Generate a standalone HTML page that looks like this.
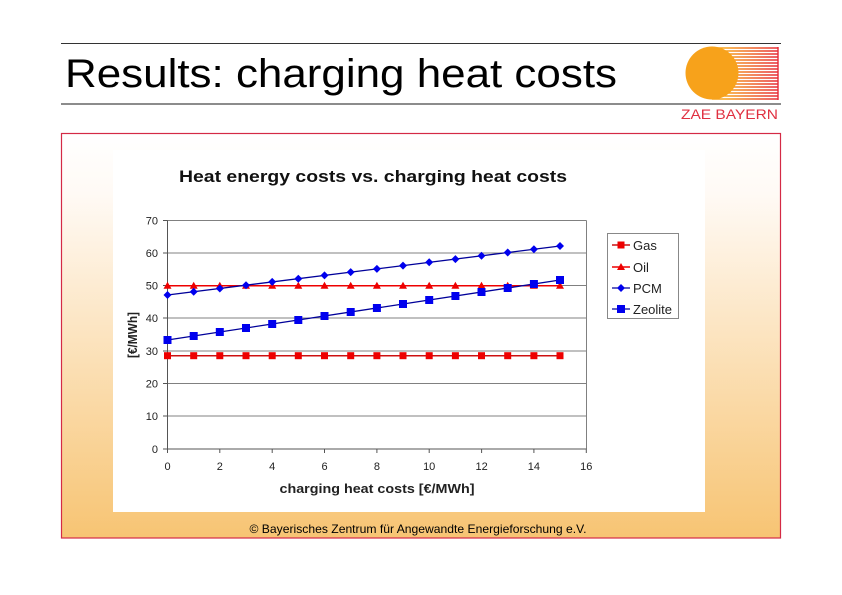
<!DOCTYPE html>
<html><head><meta charset="utf-8"><style>
html,body{margin:0;padding:0;background:#fff;}
svg{display:block;}
text{font-family:"Liberation Sans",Arial,sans-serif;}
</style></head><body>
<svg width="842" height="595" viewBox="0 0 842 595" xmlns="http://www.w3.org/2000/svg">
<defs>
<linearGradient id="bg" x1="0" y1="0" x2="0" y2="1">
<stop offset="0" stop-color="#ffffff"/>
<stop offset="0.15" stop-color="#fffaf5"/>
<stop offset="1" stop-color="#f7c473"/>
</linearGradient>
<linearGradient id="stripe" gradientUnits="userSpaceOnUse" x1="725" y1="0" x2="778" y2="0">
<stop offset="0" stop-color="#f7a21b"/>
<stop offset="1" stop-color="#e62a35"/>
</linearGradient>
</defs>
<rect width="842" height="595" fill="#fff"/>
<line x1="61" y1="43.5" x2="781" y2="43.5" stroke="#333" stroke-width="1"/>
<line x1="61" y1="104" x2="781" y2="104" stroke="#666" stroke-width="1.5"/>
<text x="65" y="87" font-size="40" textLength="552" lengthAdjust="spacingAndGlyphs" fill="#000">Results: charging heat costs</text>
<g stroke="url(#stripe)" stroke-width="1.6">
<line x1="712" y1="48" x2="778" y2="48"/>
<line x1="712" y1="51" x2="778" y2="51"/>
<line x1="712" y1="54" x2="778" y2="54"/>
<line x1="712" y1="57" x2="778" y2="57"/>
<line x1="712" y1="60" x2="778" y2="60"/>
<line x1="712" y1="63" x2="778" y2="63"/>
<line x1="712" y1="66" x2="778" y2="66"/>
<line x1="712" y1="69" x2="778" y2="69"/>
<line x1="712" y1="72" x2="778" y2="72"/>
<line x1="712" y1="75" x2="778" y2="75"/>
<line x1="712" y1="78" x2="778" y2="78"/>
<line x1="712" y1="81" x2="778" y2="81"/>
<line x1="712" y1="84" x2="778" y2="84"/>
<line x1="712" y1="87" x2="778" y2="87"/>
<line x1="712" y1="90" x2="778" y2="90"/>
<line x1="712" y1="93" x2="778" y2="93"/>
<line x1="712" y1="96" x2="778" y2="96"/>
<line x1="712" y1="99" x2="778" y2="99"/>
</g>
<line x1="778" y1="47" x2="778" y2="100" stroke="#e62a35" stroke-width="1.4"/>
<circle cx="712" cy="73" r="26.5" fill="#f7a21b"/>
<text x="681" y="119" font-size="14" fill="#e03040" textLength="97" lengthAdjust="spacingAndGlyphs">ZAE BAYERN</text>
<rect x="61.5" y="133.5" width="719" height="404.5" fill="url(#bg)" stroke="#d42a45" stroke-width="1.2"/>
<rect x="113" y="150" width="592" height="362" fill="#fff"/>
<text x="418" y="533" font-size="12" text-anchor="middle" textLength="337" lengthAdjust="spacingAndGlyphs" fill="#000">© Bayerisches Zentrum für Angewandte Energieforschung e.V.</text>
<text x="373" y="182" font-size="17" font-weight="bold" text-anchor="middle" textLength="388" lengthAdjust="spacingAndGlyphs" fill="#111">Heat energy costs vs. charging heat costs</text>
<g stroke="#808080" stroke-width="1">
<line x1="167.5" y1="220.5" x2="586.5" y2="220.5"/>
<line x1="167.5" y1="253" x2="586.5" y2="253"/>
<line x1="167.5" y1="285.5" x2="586.5" y2="285.5"/>
<line x1="167.5" y1="318" x2="586.5" y2="318"/>
<line x1="167.5" y1="351" x2="586.5" y2="351"/>
<line x1="167.5" y1="383.5" x2="586.5" y2="383.5"/>
<line x1="167.5" y1="416" x2="586.5" y2="416"/>
<line x1="586.5" y1="220.5" x2="586.5" y2="449"/>
</g>
<g stroke="#555" stroke-width="1">
<line x1="167.5" y1="220.5" x2="167.5" y2="449"/>
<line x1="167.5" y1="449" x2="586.5" y2="449"/>
<line x1="163" y1="220.5" x2="167.5" y2="220.5"/>
<line x1="163" y1="253" x2="167.5" y2="253"/>
<line x1="163" y1="285.5" x2="167.5" y2="285.5"/>
<line x1="163" y1="318" x2="167.5" y2="318"/>
<line x1="163" y1="351" x2="167.5" y2="351"/>
<line x1="163" y1="383.5" x2="167.5" y2="383.5"/>
<line x1="163" y1="416" x2="167.5" y2="416"/>
<line x1="163" y1="449" x2="167.5" y2="449"/>
<line x1="167.5" y1="449" x2="167.5" y2="453"/>
<line x1="219.8" y1="449" x2="219.8" y2="453"/>
<line x1="272.2" y1="449" x2="272.2" y2="453"/>
<line x1="324.5" y1="449" x2="324.5" y2="453"/>
<line x1="376.9" y1="449" x2="376.9" y2="453"/>
<line x1="429.2" y1="449" x2="429.2" y2="453"/>
<line x1="481.6" y1="449" x2="481.6" y2="453"/>
<line x1="533.9" y1="449" x2="533.9" y2="453"/>
<line x1="586.3" y1="449" x2="586.3" y2="453"/>
</g>
<g font-size="11" fill="#222" text-anchor="end">
<text x="158" y="224.5">70</text>
<text x="158" y="257">60</text>
<text x="158" y="289.5">50</text>
<text x="158" y="322">40</text>
<text x="158" y="355">30</text>
<text x="158" y="387.5">20</text>
<text x="158" y="420">10</text>
<text x="158" y="453">0</text>
</g>
<g font-size="11" fill="#222" text-anchor="middle">
<text x="167.5" y="470">0</text>
<text x="219.8" y="470">2</text>
<text x="272.2" y="470">4</text>
<text x="324.5" y="470">6</text>
<text x="376.9" y="470">8</text>
<text x="429.2" y="470">10</text>
<text x="481.6" y="470">12</text>
<text x="533.9" y="470">14</text>
<text x="586.3" y="470">16</text>
</g>
<text x="377" y="493" font-size="13" font-weight="bold" text-anchor="middle" textLength="195" lengthAdjust="spacingAndGlyphs" fill="#222">charging heat costs [€/MWh]</text>
<text transform="translate(137,335) rotate(-90)" font-size="13" font-weight="bold" text-anchor="middle" textLength="46" lengthAdjust="spacingAndGlyphs" fill="#222">[€/MWh]</text>
<line x1="167.5" y1="355.7" x2="560" y2="355.7" stroke="#cc1010" stroke-width="1.5"/>
<line x1="167.5" y1="285.7" x2="560" y2="285.7" stroke="#ee0000" stroke-width="1.5"/>
<line x1="167.5" y1="295" x2="560" y2="246" stroke="#000099" stroke-width="1.3"/>
<line x1="167.5" y1="340" x2="560" y2="280" stroke="#000099" stroke-width="1.3"/>
<g fill="#ee0000">
<rect x="164" y="352.2" width="7" height="7"/><rect x="190.2" y="352.2" width="7" height="7"/><rect x="216.3" y="352.2" width="7" height="7"/><rect x="242.5" y="352.2" width="7" height="7"/><rect x="268.7" y="352.2" width="7" height="7"/><rect x="294.8" y="352.2" width="7" height="7"/><rect x="321" y="352.2" width="7" height="7"/><rect x="347.2" y="352.2" width="7" height="7"/><rect x="373.4" y="352.2" width="7" height="7"/><rect x="399.5" y="352.2" width="7" height="7"/><rect x="425.7" y="352.2" width="7" height="7"/><rect x="451.9" y="352.2" width="7" height="7"/><rect x="478" y="352.2" width="7" height="7"/><rect x="504.2" y="352.2" width="7" height="7"/><rect x="530.4" y="352.2" width="7" height="7"/><rect x="556.5" y="352.2" width="7" height="7"/>
</g>
<g fill="#ee0000">
<path d="M167.5 281.7 L171.5 288.7 L163.5 288.7Z"/><path d="M193.7 281.7 L197.7 288.7 L189.7 288.7Z"/><path d="M219.8 281.7 L223.8 288.7 L215.8 288.7Z"/><path d="M246 281.7 L250 288.7 L242 288.7Z"/><path d="M272.2 281.7 L276.2 288.7 L268.2 288.7Z"/><path d="M298.3 281.7 L302.3 288.7 L294.3 288.7Z"/><path d="M324.5 281.7 L328.5 288.7 L320.5 288.7Z"/><path d="M350.7 281.7 L354.7 288.7 L346.7 288.7Z"/><path d="M376.9 281.7 L380.9 288.7 L372.9 288.7Z"/><path d="M403 281.7 L407 288.7 L399 288.7Z"/><path d="M429.2 281.7 L433.2 288.7 L425.2 288.7Z"/><path d="M455.4 281.7 L459.4 288.7 L451.4 288.7Z"/><path d="M481.5 281.7 L485.5 288.7 L477.5 288.7Z"/><path d="M507.7 281.7 L511.7 288.7 L503.7 288.7Z"/><path d="M533.9 281.7 L537.9 288.7 L529.9 288.7Z"/><path d="M560 281.7 L564 288.7 L556 288.7Z"/>
</g>
<g fill="#0000ee">
<path d="M167.5 291 L171.5 295 L167.5 299 L163.5 295Z"/><path d="M193.7 287.7 L197.7 291.7 L193.7 295.7 L189.7 291.7Z"/><path d="M219.8 284.5 L223.8 288.5 L219.8 292.5 L215.8 288.5Z"/><path d="M246 281.2 L250 285.2 L246 289.2 L242 285.2Z"/><path d="M272.2 277.9 L276.2 281.9 L272.2 285.9 L268.2 281.9Z"/><path d="M298.3 274.7 L302.3 278.7 L298.3 282.7 L294.3 278.7Z"/><path d="M324.5 271.4 L328.5 275.4 L324.5 279.4 L320.5 275.4Z"/><path d="M350.7 268.1 L354.7 272.1 L350.7 276.1 L346.7 272.1Z"/><path d="M376.9 264.9 L380.9 268.9 L376.9 272.9 L372.9 268.9Z"/><path d="M403 261.6 L407 265.6 L403 269.6 L399 265.6Z"/><path d="M429.2 258.3 L433.2 262.3 L429.2 266.3 L425.2 262.3Z"/><path d="M455.4 255.1 L459.4 259.1 L455.4 263.1 L451.4 259.1Z"/><path d="M481.5 251.8 L485.5 255.8 L481.5 259.8 L477.5 255.8Z"/><path d="M507.7 248.5 L511.7 252.5 L507.7 256.5 L503.7 252.5Z"/><path d="M533.9 245.3 L537.9 249.3 L533.9 253.3 L529.9 249.3Z"/><path d="M560 242 L564 246 L560 250 L556 246Z"/>
</g>
<g fill="#0000ee">
<rect x="163.5" y="336" width="8" height="8"/><rect x="189.7" y="332" width="8" height="8"/><rect x="215.8" y="328" width="8" height="8"/><rect x="242" y="324" width="8" height="8"/><rect x="268.2" y="320" width="8" height="8"/><rect x="294.3" y="316" width="8" height="8"/><rect x="320.5" y="312" width="8" height="8"/><rect x="346.7" y="308" width="8" height="8"/><rect x="372.9" y="304" width="8" height="8"/><rect x="399" y="300" width="8" height="8"/><rect x="425.2" y="296" width="8" height="8"/><rect x="451.4" y="292" width="8" height="8"/><rect x="477.5" y="288" width="8" height="8"/><rect x="503.7" y="284" width="8" height="8"/><rect x="529.9" y="280" width="8" height="8"/><rect x="556" y="276" width="8" height="8"/>
</g>
<rect x="607.5" y="233.5" width="71" height="85" fill="#fff" stroke="#888" stroke-width="1"/>
<line x1="612" y1="245" x2="630" y2="245" stroke="#cc1010" stroke-width="1.5"/>
<rect x="617.5" y="241.5" width="7" height="7" fill="#ee0000"/>
<line x1="612" y1="267" x2="630" y2="267" stroke="#ee0000" stroke-width="1.5"/>
<path d="M621 263 L625 270 L617 270Z" fill="#ee0000"/>
<line x1="612" y1="288" x2="630" y2="288" stroke="#000099" stroke-width="1.3"/>
<path d="M621 284 L625 288 L621 292 L617 288Z" fill="#0000ee"/>
<line x1="612" y1="309" x2="630" y2="309" stroke="#000099" stroke-width="1.3"/>
<rect x="617" y="305" width="8" height="8" fill="#0000ee"/>
<g font-size="13" fill="#222">
<text x="633" y="250">Gas</text>
<text x="633" y="272">Oil</text>
<text x="633" y="293">PCM</text>
<text x="633" y="314">Zeolite</text>
</g>
</svg>
</body></html>
